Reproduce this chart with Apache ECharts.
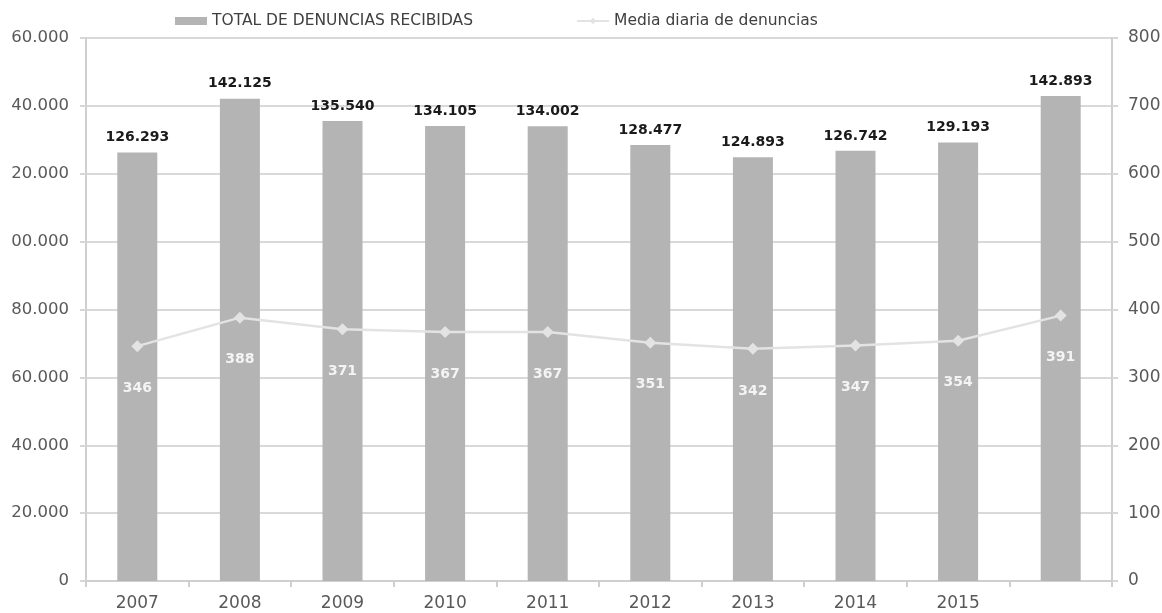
<!DOCTYPE html>
<html>
<head>
<meta charset="utf-8">
<script src="https://cdn.jsdelivr.net/npm/echarts@6/dist/echarts.min.js"></script>
<style>
html,body{margin:0;padding:0;background:#fff;overflow:hidden;}
#wrap{position:absolute;left:11px;top:0;width:1151px;height:613px;overflow:hidden;}
#chart{position:absolute;left:-11px;top:0;width:1162px;height:613px;}
</style>
</head>
<body>
<div id="wrap"><div id="chart"></div></div>
<script>
const categories = ['2007','2008','2009','2010','2011','2012','2013','2014','2015',''];
const totalDenuncias = [126293, 142125, 135540, 134105, 134002, 128477, 124893, 126742, 129193, 142893];
const mediaDiaria = [346, 388, 371, 367, 367, 351, 342, 347, 354, 391];
const seriesNames = ['TOTAL DE DENUNCIAS RECIBIDAS', 'Media diaria de denuncias'];

function fmtThousands(v){
  const s = String(Math.round(v));
  return s.replace(/\B(?=(\d{3})+(?!\d))/g, '.');
}

const FONT = 'DejaVu Sans';
const chart = echarts.init(document.getElementById('chart'), null, {renderer:'canvas'});
chart.setOption({
  animation:false,
  backgroundColor:'#ffffff',
  textStyle:{fontFamily:FONT},
  legend:{
    left:170, top:8, itemGap:103, itemWidth:32, itemHeight:8, padding:5,
    textStyle:{fontFamily:FONT, fontSize:15.5, color:'#404040'},
    data:[
      {name:seriesNames[0], icon:'rect'},
      {name:seriesNames[1]}
    ]
  },
  grid:{left:86, right:50, top:38, bottom:32, containLabel:false, outerBoundsMode:'none'},
  xAxis:{
    type:'category', data:categories,
    axisLine:{show:true, lineStyle:{color:'#cfcfcf', width:2}},
    axisTick:{show:true, alignWithLabel:false, length:6, lineStyle:{color:'#cfcfcf', width:2}},
    axisLabel:{fontFamily:FONT, fontSize:17, color:'#595959', margin:14},
    splitLine:{show:false}
  },
  yAxis:[
    {
      type:'value', min:0, max:160000, interval:20000, position:'left',
      axisLine:{show:true, lineStyle:{color:'#cfcfcf', width:2}},
      axisTick:{show:true, length:6, lineStyle:{color:'#d6d6d6', width:2}},
      axisLabel:{fontFamily:FONT, fontSize:16.5, color:'#595959', margin:17, formatter:fmtThousands},
      splitLine:{show:true, lineStyle:{color:'#d9d9d9', width:2}}
    },
    {
      type:'value', min:0, max:800, interval:100, position:'right',
      axisLine:{show:true, lineStyle:{color:'#cfcfcf', width:2}},
      axisTick:{show:true, length:6, lineStyle:{color:'#d6d6d6', width:2}},
      axisLabel:{fontFamily:FONT, fontSize:17, color:'#595959', margin:16},
      splitLine:{show:false}
    }
  ],
  series:[
    {
      name:seriesNames[0], type:'bar', yAxisIndex:0, data:totalDenuncias,
      barWidth:'39%',
      itemStyle:{color:'#b4b4b4'},
      label:{show:true, position:'top', distance:8, fontFamily:FONT, fontSize:14, fontWeight:'bold', color:'#1a1a1a',
        formatter:p=>fmtThousands(p.value)}
    },
    {
      name:seriesNames[1], type:'line', yAxisIndex:1, data:mediaDiaria,
      symbol:'diamond', symbolSize:12,
      lineStyle:{color:'#e3e3e3', width:2.5},
      itemStyle:{color:'#e3e3e3'},
      label:{show:true, position:'bottom', distance:29, fontFamily:FONT, fontSize:14, fontWeight:'bold', color:'#f4f4f4'},
      z:5
    }
  ]
});
</script>
</body>
</html>
